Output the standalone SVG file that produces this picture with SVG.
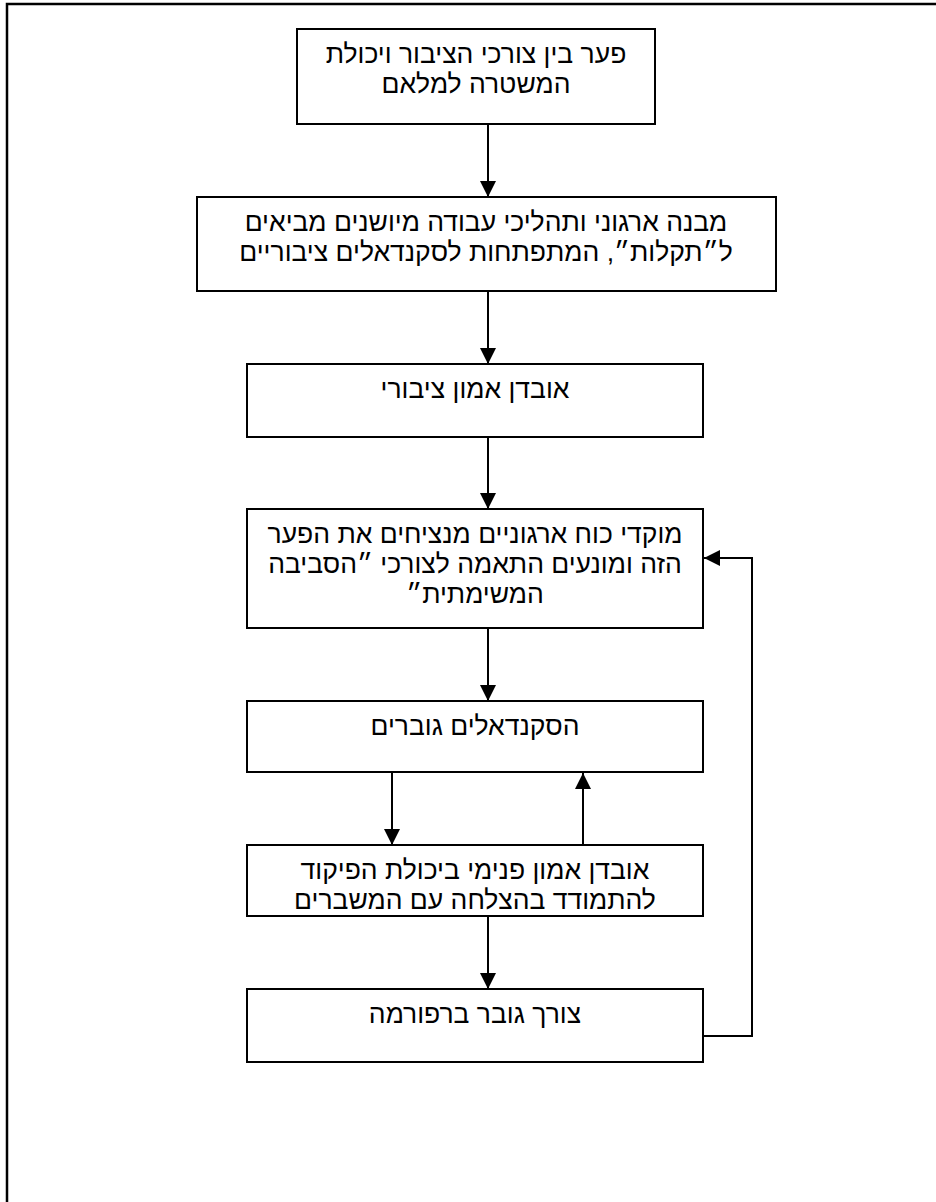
<svg xmlns="http://www.w3.org/2000/svg" width="936" height="1202" viewBox="0 0 936 1202">
<defs>
<marker id="ah" markerWidth="16" markerHeight="16" viewBox="0 0 16 16" refX="16" refY="8" orient="auto" markerUnits="userSpaceOnUse">
<path d="M0,0 L16,8 L0,16 Z" fill="#000"/>
</marker>
<style>
.box{fill:#fff;stroke:#000;stroke-width:2}
.t{font-family:"Liberation Sans","DejaVu Sans",sans-serif;font-size:26.5px;fill:#000;text-anchor:middle;direction:rtl;unicode-bidi:embed}
.c{fill:none;stroke:#000;stroke-width:2}
</style>
</defs>
<rect x="0" y="0" width="936" height="1202" fill="#fff"/>
<rect x="7" y="4" width="940" height="1210" fill="none" stroke="#000" stroke-width="2.5"/>
<g id="connectors">
<line class="c" x1="488" y1="125" x2="488" y2="197" marker-end="url(#ah)"/>
<line class="c" x1="488" y1="292" x2="488" y2="364" marker-end="url(#ah)"/>
<line class="c" x1="488" y1="438" x2="488" y2="509" marker-end="url(#ah)"/>
<line class="c" x1="488" y1="629" x2="488" y2="701" marker-end="url(#ah)"/>
<line class="c" x1="392" y1="773" x2="392" y2="845" marker-end="url(#ah)"/>
<line class="c" x1="583" y1="845" x2="583" y2="773" marker-end="url(#ah)"/>
<line class="c" x1="488" y1="917" x2="488" y2="989" marker-end="url(#ah)"/>
<polyline class="c" points="704,1036 752,1036 752,558 704,558" marker-end="url(#ah)"/>
</g>
<g id="n1"><rect class="box" x="297" y="29" width="358" height="95"/>
<text class="t" x="476" y="63">פער בין צורכי הציבור ויכולת</text>
<text class="t" x="476" y="93">המשטרה למלאם</text></g>
<g id="n2"><rect class="box" x="197" y="197" width="579" height="94"/>
<text class="t" x="486" y="231">מבנה ארגוני ותהליכי עבודה מיושנים מביאים</text>
<text class="t" x="486" y="261">ל״תקלות״, המתפתחות לסקנדאלים ציבוריים</text></g>
<g id="n3"><rect class="box" x="247" y="364" width="456" height="73"/>
<text class="t" x="475" y="398">אובדן אמון ציבורי</text></g>
<g id="n4"><rect class="box" x="247" y="509" width="456" height="119"/>
<text class="t" x="475" y="543">מוקדי כוח ארגוניים מנציחים את הפער</text>
<text class="t" x="475" y="573">הזה ומונעים התאמה לצורכי ״הסביבה</text>
<text class="t" x="475" y="603">המשימתית״</text></g>
<g id="n5"><rect class="box" x="247" y="701" width="456" height="71"/>
<text class="t" x="475" y="735">הסקנדאלים גוברים</text></g>
<g id="n6"><rect class="box" x="247" y="845" width="456" height="71"/>
<text class="t" x="475" y="879">אובדן אמון פנימי ביכולת הפיקוד</text>
<text class="t" x="475" y="909">להתמודד בהצלחה עם המשברים</text></g>
<g id="n7"><rect class="box" x="247" y="989" width="456" height="73"/>
<text class="t" x="475" y="1023">צורך גובר ברפורמה</text></g>
</svg>
